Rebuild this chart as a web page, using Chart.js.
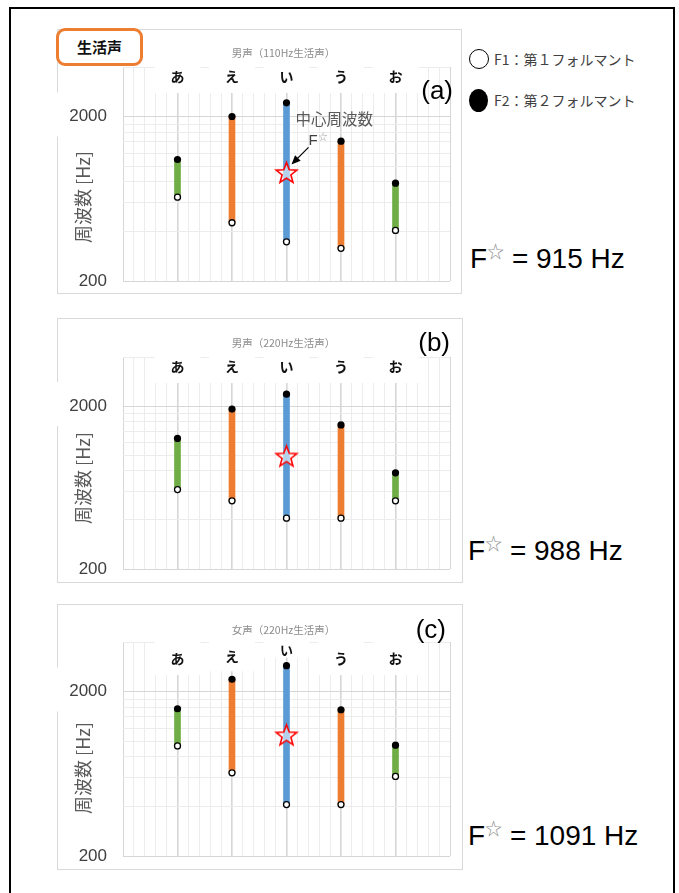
<!DOCTYPE html>
<html>
<head>
<meta charset="utf-8">
<script src="https://cdn.jsdelivr.net/npm/chart.js@4/dist/chart.umd.min.js"></script>
<style>
  body { margin: 0; background: #fff; width: 679px; height: 893px; position: relative; overflow: hidden;
         font-family: "Noto Sans CJK JP", sans-serif; }
  .frame { position: absolute; left: 9px; top: 7px; width: 662px; height: 900px; border: 2px solid #000; }
  .panel { position: absolute; }
  .tag { position: absolute; left: 56px; top: 28px; width: 87px; height: 38px; box-sizing: border-box;
         border: 3px solid #ED7D31; border-radius: 9px; background: #fff;
         font: bold 15px "Noto Sans CJK JP"; line-height: 31px; text-align: center; color: #111; }
  .mark { position: absolute; box-sizing: border-box; border-radius: 50%; }
  .legend { position: absolute; left: 494px; font-size: 14px; color: #404040; line-height: 20px; }
  .fstar { position: absolute; font: 28px "Liberation Sans", Arial, sans-serif; line-height: 28px; color: #000; white-space: pre; }
  .fstar .st { font: 17px "Noto Sans CJK JP"; color: #8c8c8c; position: relative; top: -10px; margin-left: 0; }
</style>
</head>
<body>
<div class="frame"></div>

<div class="mark" style="left:469px; top:49px; width:20px; height:20px; border:1.6px solid #000;"></div>
<div class="legend" style="top:49px;">F1：第１フォルマント</div>
<div class="mark" style="left:469px; top:89px; width:19px; height:23px; background:#000;"></div>
<div class="legend" style="top:90px;">F2：第２フォルマント</div>

<script>
const vowels = ['あ', 'え', 'い', 'う', 'お']
const vowelColors = ['#70AD47', '#ED7D31', '#5B9BD5', '#ED7D31', '#70AD47']

// formants in Hz, one entry per vowel
const male110F1 = [647, 452, 346, 316, 406]
const male110F2 = [1096, 2000, 2421, 1417, 787]
const male220F1 = [614, 524, 410, 410, 524]
const male220F2 = [1266, 1917, 2367, 1532, 778]
const female220F1 = [934, 641, 411, 411, 609]
const female220F2 = [1571, 2375, 2873, 1549, 943]

// centre frequency F☆ of each voice
const centerFreqs = [915, 988, 1091]

const panelTitles = ['男声（110Hz生活声）', '男声（220Hz生活声）', '女声（220Hz生活声）']
const panelLetters = ['(a)', '(b)', '(c)']
const yGridValues = [200, 400, 600, 800, 1000, 1200, 1400, 1600, 1800, 2000, 4000]
const yTickLabels = [200, 2000]

const formants = [
  [male110F1, male110F2],
  [male220F1, male220F2],
  [female220F1, female220F2]
]

// where each panel sits on the page and where its bits of text go
const layouts = [
  { box: [57, 29, 405, 265], pad: { top: 38, right: 12, bottom: 13 }, titleY: 24, letter: [396, 63],
    axisTitleY: 168, headDy: 10, headH: 26, fstarTop: 245, note: true },
  { box: [57, 318, 406, 265], pad: { top: 39, right: 13, bottom: 14 }, titleY: 25, letter: [393, 26],
    axisTitleY: 160, headDy: 10, headH: 26, fstarTop: 537, note: false },
  { box: [57, 604, 406, 266], pad: { top: 38, right: 13, bottom: 14 }, titleY: 26, letter: [389, 27],
    axisTitleY: 164, headDy: 19, headH: 33, fstarTop: 822, note: false }
]

const xGridValues = []
for (let k = 0; k <= 30; k++) xGridValues.push(k / 5)

Chart.defaults.font.family = '"Liberation Sans", Arial, sans-serif'

const makeStar = (size) => {
  const c = document.createElement('canvas')
  c.width = c.height = size
  const g = c.getContext('2d')
  const R = size / 2 - 1.5, r = R * 0.42, cx = size / 2, cy = size / 2 + 1
  g.beginPath()
  for (let k = 0; k < 10; k++) {
    const a = -Math.PI / 2 + k * Math.PI / 5
    const rad = k % 2 ? r : R
    g.lineTo(cx + rad * Math.cos(a), cy + rad * Math.sin(a))
  }
  g.closePath()
  g.fillStyle = 'rgba(255,255,255,0.55)'
  g.fill()
  g.strokeStyle = '#FF0000'
  g.lineWidth = 1.6
  g.stroke()
  return c
}
const starImg = makeStar(25)

const makeDecor = (i) => {
  const L = layouts[i]
  const f2 = formants[i][1]
  return {
    id: 'panelDecor',
    beforeDraw(chart) {
      const {ctx, width, height} = chart
      ctx.save()
      ctx.fillStyle = '#fff'
      ctx.fillRect(0, 0, width, height)
      ctx.strokeStyle = '#d9d9d9'
      ctx.lineWidth = 1
      ctx.strokeRect(0.5, 0.5, width - 1, height - 1)
      // white box behind the 2000 label hides the frame edge
      const y2000 = chart.scales.y.getPixelForValue(2000)
      ctx.fillRect(0, y2000 - 24, 62, 44)
      ctx.restore()
    },
    beforeDatasetsDraw(chart) {
      const {ctx, chartArea} = chart
      const xs = chart.scales.x, ys = chart.scales.y
      ctx.save()
      ctx.textAlign = 'center'
      ctx.textBaseline = 'middle'
      vowels.forEach((v, j) => {
        const cx = xs.getPixelForValue(j + 1)
        const top = chartArea.top
        const h = Math.min(L.headH, ys.getPixelForValue(f2[j]) - top - 8)
        ctx.fillStyle = '#fff'
        ctx.fillRect(cx - 23, top, 46, h)
        ctx.fillStyle = '#111'
        ctx.font = (h < 20 ? 'bold 13px' : 'bold 14px') + ' "Noto Sans CJK JP"'
        ctx.fillText(v, cx, top + Math.min(L.headDy, h / 2))
      })
      ctx.restore()
    },
    afterDraw(chart) {
      const {ctx, chartArea} = chart
      const xs = chart.scales.x, ys = chart.scales.y
      ctx.save()
      ctx.textBaseline = 'middle'
      ctx.textAlign = 'center'
      ctx.fillStyle = '#8c8c8c'
      ctx.font = '10.5px "Noto Sans CJK JP"'
      ctx.fillText(panelTitles[i], (chartArea.left + chartArea.right) / 2 - 3, L.titleY)

      ctx.textAlign = 'right'
      ctx.fillStyle = '#000'
      ctx.font = '26px "Liberation Sans"'
      ctx.fillText(panelLetters[i], L.letter[0], L.letter[1])

      // y axis title
      ctx.save()
      ctx.translate(26, L.axisTitleY)
      ctx.rotate(-Math.PI / 2)
      ctx.textAlign = 'center'
      ctx.fillStyle = '#595959'
      ctx.font = '18px "Noto Sans CJK JP"'
      ctx.fillText('周波数 [Hz]', 0, 0)
      ctx.restore()

      if (L.note) {
        const sx = xs.getPixelForValue(3), sy = ys.getPixelForValue(centerFreqs[i])
        ctx.textAlign = 'left'
        ctx.fillStyle = '#595959'
        ctx.font = '15.5px "Noto Sans CJK JP"'
        ctx.fillText('中心周波数', sx + 9, sy - 53)
        ctx.fillStyle = '#404040'
        ctx.font = '15px "Liberation Sans"'
        ctx.fillText('F', sx + 22, sy - 32)
        ctx.fillStyle = '#9a9a9a'
        ctx.font = '9px "Noto Sans CJK JP"'
        ctx.fillText('☆', sx + 32, sy - 36)
        // arrow to the star
        const x0 = sx + 22, y0 = sy - 25, x1 = sx + 5, y1 = sy - 8
        const ang = Math.atan2(y1 - y0, x1 - x0)
        ctx.strokeStyle = '#000'
        ctx.lineWidth = 1.2
        ctx.beginPath()
        ctx.moveTo(x0, y0)
        ctx.lineTo(x1 - 6 * Math.cos(ang), y1 - 6 * Math.sin(ang))
        ctx.stroke()
        ctx.fillStyle = '#000'
        ctx.beginPath()
        ctx.moveTo(x1, y1)
        ctx.lineTo(x1 - 9 * Math.cos(ang) + 4 * Math.sin(ang), y1 - 9 * Math.sin(ang) - 4 * Math.cos(ang))
        ctx.lineTo(x1 - 9 * Math.cos(ang) - 4 * Math.sin(ang), y1 - 9 * Math.sin(ang) + 4 * Math.cos(ang))
        ctx.closePath()
        ctx.fill()
      }
      ctx.restore()
    }
  }
}

layouts.forEach((L, i) => {
  const [f1, f2] = formants[i]
  const wrap = document.createElement('div')
  wrap.className = 'panel'
  wrap.style.left = L.box[0] + 'px'
  wrap.style.top = L.box[1] + 'px'
  wrap.style.width = L.box[2] + 'px'
  wrap.style.height = L.box[3] + 'px'
  const canvas = wrap.appendChild(document.createElement('canvas'))
  canvas.width = L.box[2]
  canvas.height = L.box[3]
  document.body.appendChild(wrap)

  new Chart(canvas, {
    type: 'bar',
    data: {
      datasets: [
        {
          type: 'scatter',
          data: [{x: 3, y: centerFreqs[i]}],
          pointStyle: starImg,
          order: 1
        },
        {
          type: 'scatter',
          data: vowels.map((v, j) => ({x: j + 1, y: f2[j]})),
          pointRadius: 3.6,
          backgroundColor: '#000',
          borderColor: '#000',
          borderWidth: 0,
          order: 2
        },
        {
          type: 'scatter',
          data: vowels.map((v, j) => ({x: j + 1, y: f1[j]})),
          pointRadius: 3,
          backgroundColor: '#fff',
          borderColor: '#000',
          borderWidth: 1.3,
          order: 3
        },
        {
          data: vowels.map((v, j) => ({x: j + 1, y: [f1[j], f2[j]]})),
          backgroundColor: vowelColors,
          barThickness: 6,
          order: 4
        }
      ]
    },
    options: {
      responsive: false,
      animation: false,
      events: [],
      layout: { padding: { left: 0, top: L.pad.top, right: L.pad.right, bottom: L.pad.bottom } },
      plugins: { legend: { display: false }, tooltip: { enabled: false }, title: { display: false } },
      scales: {
        x: {
          type: 'linear',
          min: 0,
          max: 6,
          offset: false,
          afterBuildTicks: s => { s.ticks = xGridValues.map(v => ({value: v})) },
          afterFit: s => {
            s.height = 0
            s.paddingLeft = s.paddingRight = 0
          },
          ticks: { display: false },
          border: { display: false },
          grid: {
            offset: false,
            drawTicks: false,
            color: c => {
              const v = Math.round(c.tick.value * 5) / 5
              return Number.isInteger(v) ? '#d6d6d6' : '#ececec'
            },
            lineWidth: c => (Number.isInteger(Math.round(c.tick.value * 5) / 5) && c.tick.value > 0 && c.tick.value < 6) ? 1.6 : 1
          }
        },
        y: {
          type: 'logarithmic',
          min: 200,
          max: 4000,
          afterBuildTicks: s => { s.ticks = yGridValues.map(v => ({value: v})) },
          afterFit: s => {
            s.width = 66
            // labels may hang past the plot edges, keep the plot box fixed
            s.paddingTop = s.paddingBottom = 0
          },
          ticks: {
            autoSkip: false,
            padding: 16,
            color: '#404040',
            font: { size: 17 },
            callback: v => yTickLabels.includes(v) ? String(v) : ''
          },
          border: { display: false },
          grid: {
            drawTicks: false,
            color: c => yTickLabels.includes(c.tick.value) ? '#d6d6d6' : '#ececec'
          }
        }
      }
    },
    plugins: [makeDecor(i)]
  })

  const fs = document.createElement('div')
  fs.className = 'fstar'
  fs.style.left = (i === 0 ? 470 : 468) + 'px'
  fs.style.top = L.fstarTop + 'px'
  fs.innerHTML = 'F<span class="st">☆</span> = ' + centerFreqs[i] + ' Hz'
  document.body.appendChild(fs)
})

const tag = document.createElement('div')
tag.className = 'tag'
tag.textContent = '生活声'
document.body.appendChild(tag)
</script>
</body>
</html>
